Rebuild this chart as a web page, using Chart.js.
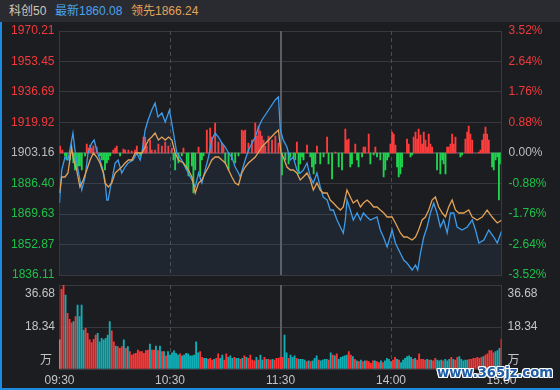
<!DOCTYPE html>
<html><head><meta charset="utf-8">
<script src="https://cdn.jsdelivr.net/npm/chart.js@4.4.1/dist/chart.umd.min.js"></script>
<style>
html,body{margin:0;padding:0;background:#1c1d21;}
#wrap{position:relative;width:560px;height:390px;overflow:hidden;background:#1c1d21;font-family:"Liberation Sans","Noto Sans CJK SC",sans-serif;}
#hdr{position:absolute;left:0;top:0;width:560px;height:22px;background:#2a2b30;}
#hdr span{position:absolute;top:3px;font-size:12px;line-height:16px;white-space:nowrap;}
canvas{position:absolute;left:0;top:0;}
#lb{position:absolute;left:0;top:22px;width:2px;height:368px;background:#1a8be0;}
#bb{position:absolute;left:0;top:388px;width:560px;height:2px;background:#1a8be0;}
#wm{position:absolute;left:437px;top:364px;font-weight:bold;font-family:"DejaVu Sans",sans-serif;font-size:15px;line-height:18px;color:#1f5ea6;white-space:nowrap;
text-shadow:1px 0 #fff,-1px 0 #fff,0 1px #fff,0 -1px #fff,1px 1px #fff,-1px -1px #fff,1px -1px #fff,-1px 1px #fff;}
</style></head>
<body>
<div id="wrap">
<div id="hdr"><span id="h1" style="left:9px;color:#cfc8bb"></span><span id="h2" style="left:55px;color:#4aa3f0"></span><span id="h3" style="left:131px;color:#e0a45a"></span></div>
<canvas id="main" width="560" height="390"></canvas>
<canvas id="vol" width="560" height="390"></canvas>
<div id="lb"></div><div id="bb"></div>
<div id="wm">www.365jz.com</div>
</div>
<script>
// ---- header texts ----
const titleName = '科创50';
const latestLabel = '最新1860.08';
const leadLabel = '领先1866.24';

// ---- axis labels ----
const timeLabels = ['09:30','10:30','11:30','14:00','15:00'];
const timeMinutes = [0,60,120,180,240];
const preClose = 1903.16;
const priceTicks = [1970.21,1953.45,1936.69,1919.92,1903.16,1886.40,1869.63,1852.87,1836.11];
const pctTicks = [3.52,2.64,1.76,0.88,0,-0.88,-1.76,-2.64,-3.52];
const pctLabels = ['3.52%','2.64%','1.76%','0.88%','0.00%','-0.88%','-1.76%','-2.64%','-3.52%'];
const volTicks = [36.68,18.34,0];
const volTickLabels = ['36.68','18.34','万'];

// ---- price line (最新), minutes since 09:30 in trading time ----
const blueMin = [0,1.2,3.0,4.6,6.6,7.3,8.4,10.1,12.1,13.9,
15.5,17.5,18.8,20.2,22.0,23.6,24.7,25.7,26.4,28.4,
30.2,31.8,33.8,35.6,37.2,40.0,42.0,43.8,44.7,46.5,
48.1,50.1,51.9,53.5,55.6,57.4,59.7,61.9,63.7,66.4,
68.2,69.9,71.9,73.7,75.5,77.3,79.1,80.9,82.7,84.5,
86.3,88.2,90.0,91.8,93.6,95.4,97.2,98.1,100.8,102.6,
106.3,108.1,109.9,113.5,117.1,118.9,119.9,121.5,123.5,125.3,
126.9,128.9,130.7,132.4,134.4,136.2,137.8,139.8,141.6,143.2,
145.3,147.0,148.7,150.7,152.5,154.1,155.2,156.1,157.9,159.5,
161.6,163.4,165.0,167.0,168.8,172.4,174.2,175.9,177.9,180.6,
182.4,184.2,186.9,188.7,191.5,193.3,194.5,196.0,197.8,199.6,
201.4,203.2,205.0,206.8,208.6,210.5,212.3,214.1,215.9,218.6,
221.4,224.1,225.9,227.7,230.4,233.1,235.8,237.7,240];
const bluePrice = [1875.68,1893.82,1900.96,1899.31,1910.30,1914.15,1904.81,1893.82,1882.82,1889.97,
1903.16,1908.65,1910.30,1904.81,1899.31,1893.82,1888.32,1877.33,1877.33,1888.32,
1897.66,1899.31,1892.17,1895.46,1897.66,1899.31,1903.16,1899.31,1903.16,1915.80,
1921.30,1926.79,1930.64,1922.94,1925.14,1920.20,1926.79,1914.15,1903.16,1899.31,
1895.46,1892.17,1888.32,1884.47,1892.17,1886.67,1893.82,1900.96,1910.30,1914.15,
1911.95,1908.65,1906.46,1903.16,1900.96,1895.46,1892.17,1889.97,1899.31,1904.81,
1911.95,1917.45,1921.30,1926.79,1932.29,1933.94,1915.80,1910.30,1906.46,1899.31,
1900.96,1893.82,1892.17,1893.82,1897.66,1889.97,1886.67,1892.17,1884.47,1878.98,
1877.33,1871.83,1871.83,1866.34,1862.49,1859.19,1866.34,1877.33,1871.83,1866.34,
1870.18,1866.34,1870.18,1867.98,1866.34,1867.98,1860.84,1856.99,1851.50,1860.84,
1853.69,1849.85,1844.35,1842.70,1838.86,1841.60,1838.86,1848.20,1856.99,1862.49,
1870.18,1875.68,1870.18,1862.49,1866.34,1859.19,1870.18,1870.18,1862.49,1860.84,
1862.49,1866.34,1860.84,1853.69,1855.34,1860.84,1856.99,1853.69,1860.08];

// ---- leading line (领先) ----
const orangeMin = [0,1.2,3.0,4.6,6.6,7.3,9.3,11.1,12.9,14.8,
16.6,18.4,20.2,22.0,23.8,24.7,26.5,28.4,30.2,32.0,
33.8,35.6,37.4,39.3,41.1,42.9,44.7,46.5,48.3,50.1,
51.9,53.7,55.6,57.4,59.2,61.0,62.8,64.6,67.3,70.0,
71.9,73.7,75.5,77.3,79.1,80.9,82.7,84.5,86.3,88.2,
90.0,91.8,93.6,95.4,97.2,99.0,100.8,102.6,106.3,109.9,
113.5,117.1,118.9,120.3,121.5,123.5,125.3,126.9,128.9,130.7,
132.4,134.4,136.2,137.8,139.8,141.6,143.2,145.3,147.0,148.7,
150.7,152.5,154.1,156.1,157.9,159.5,161.6,163.4,165.0,167.0,
168.8,170.6,172.4,174.2,176.1,177.9,180.6,182.4,185.1,186.9,
188.7,191.5,193.3,195.0,196.9,198.7,200.5,202.3,204.1,205.9,
207.8,209.6,211.3,213.2,215.0,216.8,219.5,222.2,224.1,226.8,
229.5,232.2,234.9,237.7,240];
const orangePrice = [1881.17,1889.97,1889.97,1892.17,1906.46,1900.96,1893.82,1884.47,1888.32,1893.82,
1899.31,1903.16,1900.96,1897.66,1892.17,1886.67,1884.47,1886.67,1892.17,1893.82,
1895.46,1897.66,1899.31,1899.31,1903.16,1903.16,1903.16,1906.46,1910.30,1911.95,
1914.15,1910.30,1911.95,1910.30,1911.95,1910.30,1903.16,1899.31,1897.66,1893.82,
1889.97,1881.17,1886.67,1888.32,1892.17,1895.46,1899.31,1900.96,1900.96,1899.31,
1897.66,1893.82,1889.97,1886.67,1885.57,1892.17,1895.46,1897.66,1900.96,1906.46,
1910.30,1914.15,1915.80,1903.16,1900.96,1895.46,1893.82,1893.82,1892.17,1888.32,
1889.97,1892.17,1888.32,1882.82,1886.67,1882.82,1881.17,1881.17,1877.33,1875.68,
1873.48,1871.83,1873.48,1882.82,1878.98,1875.68,1877.33,1873.48,1875.68,1877.33,
1875.68,1873.48,1873.48,1871.83,1870.18,1867.98,1867.98,1864.69,1859.19,1856.99,
1856.99,1855.34,1856.99,1860.84,1866.34,1867.98,1871.83,1877.33,1878.98,1873.48,
1870.18,1867.98,1873.48,1877.33,1871.83,1870.18,1870.18,1871.83,1867.98,1866.34,
1867.98,1871.83,1867.98,1864.69,1866.24];

// ---- buy/sell strength bars around the previous close (index points) ----
const flowMin = [0.3,1.5,3.0,3.9,5.7,7.5,8.4,9.3,10.2,11.1,
12.1,13.9,14.8,15.7,16.6,17.5,18.4,20.2,22.0,22.9,
23.8,24.7,25.7,26.5,27.5,29.2,30.2,31.1,32.9,34.7,
35.6,37.4,39.2,41.0,42.0,43.8,45.6,46.5,47.4,49.2,
50.1,51.9,53.7,55.6,57.4,59.1,61.0,61.9,62.8,64.6,
66.4,67.3,69.1,70.0,71.9,72.7,73.7,75.5,76.4,77.3,
78.2,80.0,81.8,82.7,84.5,86.3,88.2,89.0,90.0,91.8,
93.6,95.4,97.2,99.0,99.9,100.8,102.6,104.5,106.3,107.2,
108.1,109.0,109.9,110.8,111.7,113.5,115.4,117.2,118.9,
120.8,122.6,124.4,125.3,127.1,128.0,128.9,129.8,130.7,131.7,
132.5,134.4,136.2,137.1,138.0,138.9,139.8,141.6,143.4,145.3,
146.1,148.0,149.8,151.6,153.4,155.2,156.1,157.0,157.9,158.8,
160.6,161.6,162.4,164.3,165.1,166.0,167.9,168.8,170.6,171.5,
172.4,174.2,176.0,176.9,177.9,178.7,179.7,180.6,181.5,182.4,
183.3,184.2,185.1,186.0,188.7,189.6,190.6,191.5,192.3,193.3,
194.2,195.0,196.0,196.9,197.8,198.7,199.6,200.5,201.4,202.3,
205.0,206.8,207.8,208.6,209.6,210.5,211.3,212.3,213.2,214.1,
215.0,217.7,218.6,220.4,221.4,222.2,223.1,224.1,227.7,228.6,
229.5,230.4,231.3,232.2,233.1,234.9,235.8,236.8,237.7,238.6,239.1];
const flowVal = [3.8,1.6,-1.6,-3.8,-3.8,-5.5,-9.3,-9.3,-7.1,-7.1,
-9.3,-1.6,4.9,2.7,4.4,2.7,3.8,3.3,-1.6,-3.8,
-3.8,-9.3,-5.5,-3.8,-1.6,1.6,2.7,3.8,-1.6,2.2,
1.6,1.6,1.1,1.6,3.8,-1.6,8.8,8.8,3.8,7.1,
1.6,1.6,4.9,3.8,6.0,3.8,2.7,-3.8,-9.3,-5.5,
-1.6,2.7,-9.3,-12.6,-7.1,-22.0,-9.3,3.3,-12.6,-3.8,
-1.6,12.6,13.7,8.8,16.5,6.0,5.5,3.8,-5.5,-9.3,
-3.8,-5.5,-1.6,12.6,12.1,12.6,5.5,7.1,16.5,9.3,
14.8,12.1,9.3,7.1,3.8,9.3,7.1,9.3,5.5,
-12.1,-3.8,-6.0,-2.2,-2.2,-3.8,6.0,-11.5,-6.0,-2.2,
-3.8,4.4,-2.2,-7.7,-11.5,-6.0,3.8,-6.0,-2.2,8.8,
-6.0,-14.3,0.5,-7.7,-9.3,13.2,7.1,7.7,-7.7,-6.0,
4.9,-3.8,-7.7,-2.2,3.3,3.3,10.4,-6.0,-1.1,3.3,
-2.2,-3.8,-13.2,-9.3,-3.8,-2.2,4.9,11.5,10.4,4.4,
-7.7,-13.2,-11.5,-7.7,7.7,4.9,-2.2,-1.1,8.8,11.5,
7.7,13.2,9.9,4.9,11.5,7.1,3.3,10.4,4.9,3.3,
-9.3,-11.5,-3.8,-6.0,-11.5,3.3,3.3,4.9,10.4,4.9,
8.8,-2.2,-1.1,7.7,11.5,14.8,10.4,7.1,0.5,1.6,
7.1,10.4,14.3,10.4,7.1,-7.7,-9.3,-3.8,-2.2,-25.8,-6.0];

// ---- volume (万), one bar per sampled interval, direction 1 up / -1 down / 0 flat ----
const volValues = [12.7,34.8,36.7,32.3,24.3,21.7,20.2,20.7,22.9,27.9,
22.9,27.9,17.0,17.8,15.6,12.7,11.5,13.0,14.8,15.6,
11.9,13.4,12.7,13.4,14.8,20.7,16.7,11.9,10.0,9.8,
9.0,9.8,12.7,9.0,9.8,7.6,6.1,6.6,6.8,8.3,
7.6,7.6,6.8,8.0,8.3,10.9,8.3,8.3,10.0,8.0,
10.0,7.6,7.6,5.7,7.6,6.1,7.1,7.9,6.8,6.1,
6.6,5.7,6.1,6.8,6.6,5.7,5.7,6.1,11.9,7.1,
7.6,5.1,4.7,4.7,4.2,4.7,3.9,4.2,4.7,6.6,
4.7,6.1,3.9,6.6,5.1,5.7,4.7,5.1,4.7,4.7,
4.2,4.7,5.7,5.1,4.7,6.1,3.9,3.6,5.1,3.9,
6.1,3.9,5.1,4.2,4.2,3.9,4.2,3.9,4.7,4.7,
5.1,5.1,
14.8,7.1,4.7,6.1,5.1,5.7,4.7,4.2,4.2,4.2,
3.9,3.2,3.6,3.2,3.6,4.7,5.7,3.9,3.6,3.9,
4.2,4.2,3.9,7.1,6.1,5.7,6.6,4.2,5.1,5.4,
5.7,6.1,7.6,6.1,5.4,4.2,3.6,3.2,3.9,3.2,
3.6,3.6,3.2,2.5,3.6,3.6,3.2,2.8,3.6,2.8,
3.6,4.7,4.2,3.2,3.9,5.1,4.2,3.9,2.8,3.9,
4.7,5.4,5.7,5.1,4.2,4.7,3.9,6.6,4.2,4.2,
3.9,4.2,3.9,3.9,3.6,4.7,3.9,3.6,3.9,3.6,
4.2,3.6,4.2,5.1,4.2,3.9,5.1,5.4,4.2,3.6,
3.9,3.9,4.2,4.2,4.7,4.7,5.1,4.7,5.1,5.4,
6.1,6.6,8.0,8.0,7.1,7.6,8.0,9.0,13.0];
const volDir = [0,1,1,-1,1,1,1,-1,1,-1,
-1,-1,-1,1,1,1,1,1,1,-1,
-1,-1,-1,-1,-1,-1,1,1,-1,1,
1,1,-1,1,-1,1,1,1,1,1,
1,1,1,1,1,-1,1,1,-1,1,
-1,1,-1,1,-1,-1,-1,-1,-1,-1,
1,-1,-1,-1,-1,-1,-1,-1,-1,-1,
1,1,-1,-1,1,1,1,-1,1,1,
-1,-1,1,1,-1,-1,-1,1,-1,-1,
1,-1,1,-1,1,1,1,1,-1,1,
-1,-1,1,-1,1,1,-1,1,1,1,
1,1,
-1,-1,1,-1,-1,-1,1,-1,-1,-1,
-1,1,-1,1,-1,-1,-1,1,-1,-1,
-1,-1,1,-1,1,-1,1,-1,-1,-1,
-1,-1,1,1,-1,1,-1,1,-1,1,
-1,1,1,1,1,-1,1,1,-1,1,
-1,-1,-1,-1,1,1,-1,1,-1,-1,
-1,-1,-1,-1,1,-1,1,1,1,1,
1,-1,1,-1,1,1,-1,-1,-1,1,
-1,-1,-1,1,-1,1,1,-1,-1,-1,
-1,-1,1,1,1,1,1,1,1,-1,
1,1,1,1,1,-1,-1,-1,1];

// ---- styling ----
const C = {
  red:'#f23a3c', green:'#1ec148', gray:'#bdbdbd', grid:'#38393e', zero:'#46474c',
  blue:'#3d9be9', orange:'#e3a257', flowUp:'#ff3b3b', flowDown:'#1fd34e',
  volUp:'#ff3535', volDown:'#10afb6', volFlat:'#e8e8e8', vline:'#4c4d52', vline2:'#5c5d62'
};
const FONT = {family:'"Liberation Sans","Noto Sans CJK SC",sans-serif', size:12};

document.getElementById('h1').textContent = titleName;
document.getElementById('h2').textContent = latestLabel;
document.getElementById('h3').textContent = leadLabel;

// fit watermark text into its 116px slot
(function(){
  const wm = document.getElementById('wm');
  const w = wm.getBoundingClientRect().width;
  if (w > 0) wm.style.fontSize = (15 * 116 / w).toFixed(2) + 'px';
})();

const sessionLen = timeMinutes[timeMinutes.length-1];

function vLines(ctx, a, xOf){
  ctx.save();
  timeMinutes.forEach(m=>{
    if(m===timeMinutes[0]||m===sessionLen) return;
    const solid = m===120;
    const px = Math.round(xOf(m)) + (solid?0:0.5);
    ctx.beginPath();
    ctx.strokeStyle = solid ? C.vline2 : C.vline;
    ctx.lineWidth = solid ? 2 : 1;
    ctx.setLineDash(solid ? [] : [4,3]);
    ctx.moveTo(px, a.top); ctx.lineTo(px, a.bottom); ctx.stroke();
  });
  ctx.restore();
}

const mainDeco = {
  id:'mainDeco',
  beforeDatasetsDraw(chart){
    const x = chart.scales.x;
    vLines(chart.ctx, chart.chartArea, m=>x.getPixelForValue(m));
  }
};

const tickColor = (v, ref) => v > ref ? C.red : (v < ref ? C.green : C.gray);

new Chart(document.getElementById('main'), {
  type:'line',
  data:{
    datasets:[
      {type:'line', label:'领先', data:orangeMin.map((m,i)=>({x:m,y:orangePrice[i]})),
       borderColor:C.orange, borderWidth:1.3, pointRadius:0, tension:0, order:0, yAxisID:'y'},
      {type:'line', label:'最新', data:blueMin.map((m,i)=>({x:m,y:bluePrice[i]})),
       borderColor:C.blue, borderWidth:1.3, pointRadius:0, tension:0, order:1, yAxisID:'y',
       fill:'start', backgroundColor:'rgba(70,130,200,0.09)'},
      {type:'bar', label:'flow', data:flowMin.map((m,i)=>({x:m,y:[preClose, preClose+flowVal[i]]})),
       backgroundColor:flowVal.map(v=>v>=0?C.flowUp:C.flowDown), barThickness:1.2, order:2, yAxisID:'y'}
    ]
  },
  options:{
    responsive:false, devicePixelRatio:1, animation:false,
    layout:{padding:{top:31,bottom:115,left:0,right:0}},
    plugins:{legend:{display:false}, tooltip:{enabled:false}},
    scales:{
      x:{type:'linear', min:0, max:sessionLen, offset:false, display:false},
      y:{position:'left', min:priceTicks[priceTicks.length-1], max:priceTicks[0],
         afterFit(s){s.width=59.5;},
         afterBuildTicks(s){s.ticks = priceTicks.map(v=>({value:v}));},
         ticks:{font:FONT, padding:5, color:c=>tickColor(c.tick.value, preClose),
                callback:(v)=>v.toFixed(2)},
         grid:{drawTicks:false, color:c=>c.tick && c.tick.value===preClose?C.zero:C.grid,
               lineWidth:c=>c.tick && c.tick.value===preClose?2:1},
         border:{display:true, color:C.grid}},
      yR:{position:'right', min:pctTicks[pctTicks.length-1], max:pctTicks[0],
         afterFit(s){s.width=58.5;},
         afterBuildTicks(s){s.ticks = pctTicks.map(v=>({value:v}));},
         ticks:{font:FONT, padding:7, color:c=>tickColor(c.tick.value, 0),
                callback:(v,i)=>pctLabels[i]},
         grid:{display:false, drawTicks:false},
         border:{display:true, color:C.grid}}
    }
  },
  plugins:[mainDeco]
});

const volDeco = {
  id:'volDeco',
  beforeDatasetsDraw(chart){
    const a = chart.chartArea;
    vLines(chart.ctx, a, m=>a.left + (m/sessionLen)*(a.right-a.left));
  },
  afterDraw(chart){
    const {ctx, chartArea:a} = chart;
    const y = chart.scales.y;
    ctx.save();
    ctx.font = '12px "Liberation Sans","Noto Sans CJK SC",sans-serif';
    ctx.fillStyle = '#c4c4c4';
    ctx.textBaseline = 'middle';
    volTicks.forEach((v,i)=>{
      let py = y.getPixelForValue(v);
      if(i===0) py += 9;
      if(v===0) py -= 8;
      const rightAlignX = v===0 ? 52 : 55;
      ctx.textAlign = 'right'; ctx.fillText(volTickLabels[i], rightAlignX, py);
      ctx.textAlign = 'left'; ctx.fillText(volTickLabels[i], a.right+6, py);
    });
    // time labels
    ctx.textAlign = 'center';
    timeLabels.forEach((t,i)=>{
      const px = a.left + (timeMinutes[i]/sessionLen)*(a.right-a.left);
      ctx.fillText(t, px, a.bottom+12);
    });
    ctx.restore();
  }
};

new Chart(document.getElementById('vol'), {
  type:'bar',
  data:{
    labels:volValues.map((_,i)=>i),
    datasets:[{data:volValues,
      backgroundColor:volDir.map(d=>d>0?C.volUp:(d<0?C.volDown:C.volFlat)),
      barThickness:1.2}]
  },
  options:{
    responsive:false, devicePixelRatio:1, animation:false,
    layout:{padding:{top:285,bottom:21,left:0,right:0}},
    plugins:{legend:{display:false}, tooltip:{enabled:false}},
    scales:{
      x:{type:'category', offset:false, display:false},
      y:{position:'left', min:0, max:volTicks[0],
         afterFit(s){s.width=59.5;},
         afterBuildTicks(s){s.ticks = volTicks.map(v=>({value:v}));},
         ticks:{display:false},
         grid:{drawTicks:false, color:C.grid},
         border:{display:true, color:C.grid}},
      yR:{position:'right', min:0, max:volTicks[0],
         afterFit(s){s.width=58.5;},
         ticks:{display:false},
         grid:{display:false, drawTicks:false},
         border:{display:true, color:C.grid}}
    }
  },
  plugins:[volDeco]
});
</script>
</body></html>
